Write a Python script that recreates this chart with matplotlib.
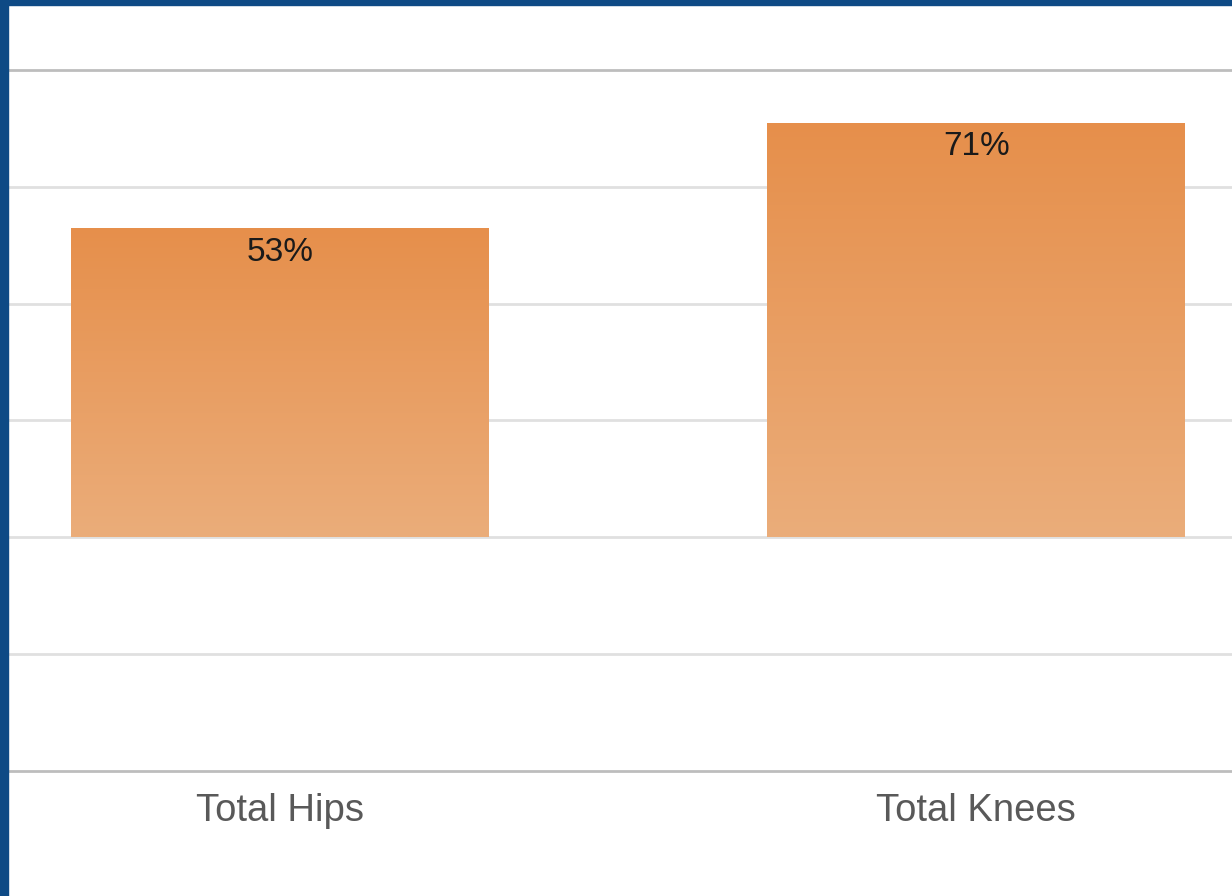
import matplotlib.pyplot as plt
import matplotlib.patches as mpatches
from matplotlib.colors import LinearSegmentedColormap
import numpy as np

plt.rcParams['font.family'] = ['Liberation Sans', 'DejaVu Sans']

# data
categories = ['Total Hips', 'Total Knees']
values = [0.53, 0.71]
labels = ['53%', '71%']
grid_ticks = [-0.4, -0.2, 0.0, 0.2, 0.4, 0.6, 0.8]

W, H = 1232, 896
fig = plt.figure(figsize=(W / 100, H / 100), dpi=100)
ax = fig.add_axes([8 / W, (H - 771) / H, 1 - 8 / W, (771 - 70) / H])

x = np.arange(len(categories))
bars = ax.bar(x, values, width=0.6, color='none', edgecolor='none', zorder=3)

# vertical gradient for each bar (darker at top)
cmap = LinearSegmentedColormap.from_list('og', ['#ebad7a', '#e68f4b'])
grad = np.linspace(0, 1, 256).reshape(-1, 1)
for b in bars:
    x0, w, h = b.get_x(), b.get_width(), b.get_height()
    im = ax.imshow(grad, cmap=cmap, aspect='auto', origin='lower',
                   extent=[x0, x0 + w, 0, h], zorder=3)
    im.set_clip_path(b)

for xi, v, lab in zip(x, values, labels):
    ax.annotate(lab, (xi, v), xytext=(0, -17.5), textcoords='offset points',
                ha='center', va='center', fontsize=24, color='#1a1a1a', zorder=4)

ax.set_xlim(-0.39, 1.367)
ax.set_ylim(-0.4, 0.8)
for g in grid_ticks:
    if g in (-0.4, 0.8):
        ax.axhline(g, color='#bdbdbd', lw=2, zorder=1, clip_on=False)
    else:
        ax.axhline(g, color='#e0e0e0', lw=2, zorder=1)

ax.set_yticks([])
ax.set_xticks(x)
ax.set_xticklabels(categories, fontsize=27.5, color='#595959')
ax.tick_params(axis='x', length=0, pad=15.5)
for s in ax.spines.values():
    s.set_visible(False)

# blue frame on left and top
fig.patches.append(mpatches.Rectangle((0, 0), 8 / W, 1, transform=fig.transFigure,
                                      color='#0e4a85', zorder=10))
fig.patches.append(mpatches.Rectangle((0, 1 - 5 / H), 1, 5 / H, transform=fig.transFigure,
                                      color='#0e4a85', zorder=10))

fig.savefig('out.png', dpi=100)
